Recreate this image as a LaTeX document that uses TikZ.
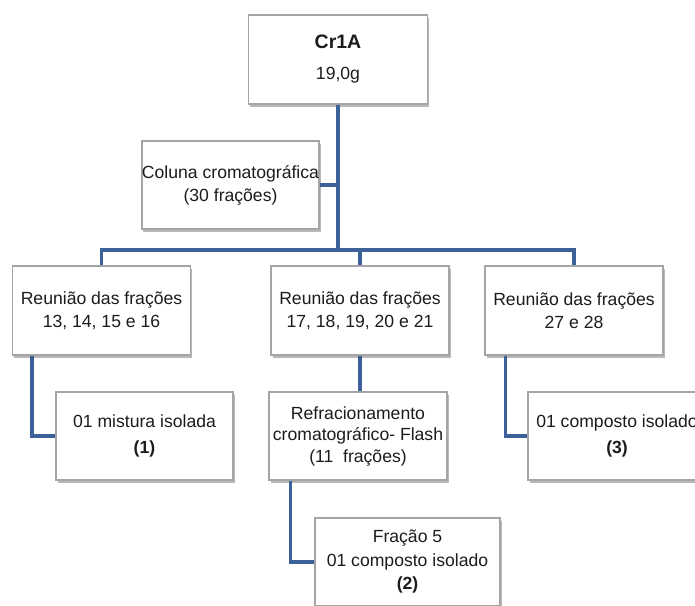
\documentclass[tikz,border=0pt]{standalone}
\usepackage{fontspec}
\setmainfont{Liberation Sans}
\usetikzlibrary{shadows}
\definecolor{linkblue}{RGB}{60,96,152}
\definecolor{boxedge}{RGB}{165,165,165}
\definecolor{txt}{RGB}{28,28,28}
\tikzset{
  stagebox/.style={draw=boxedge, line width=1.1pt, fill=white, text=txt,
    minimum width=178pt, minimum height=88pt, align=center, inner sep=0pt,
    font=\fontsize{17.6}{23}\selectfont,
    drop shadow={shadow xshift=1.5pt, shadow yshift=-2.5pt, fill=black, opacity=0.28}},
  link/.style={draw=linkblue, line width=3.8pt, line join=miter}
}
\begin{document}
\begin{tikzpicture}[x=1pt,y=-1pt]
  \useasboundingbox (0,0) rectangle (695,605);
  \fill[white] (0,0) rectangle (695,605);
  \clip (0,0) rectangle (695,605);

  % boxes
  \node[stagebox, minimum width=179pt, minimum height=89pt] (top) at (338,59.5)
    {{\fontsize{19.5}{26}\selectfont\bfseries Cr1A}\\[8pt]19,0g};
  \node[stagebox, minimum width=177pt] (col) at (230.5,185)
    {Coluna cromatográfica\\(30 frações)};
  \node[stagebox, minimum height=89pt] (r1) at (101.5,310.5)
    {Reunião das frações\\13, 14, 15 e 16};
  \node[stagebox, minimum height=89pt] (r2) at (360,310.5)
    {Reunião das frações\\17, 18, 19, 20 e 21};
  \node[stagebox, minimum height=89pt] (r3) at (574,310.5)
    {Reunião das frações\\27 e 28};
  \node[stagebox, minimum width=177pt, font=\fontsize{17.6}{26}\selectfont] (mix) at (144.5,436)
    {01 mistura isolada\\\textbf{(1)}};
  \node[stagebox, font=\fontsize{17.6}{21.5}\selectfont] (flash) at (358,436)
    {Refracionamento\\cromatográfico- Flash\\(11\ \ frações)};
  \node[stagebox, font=\fontsize{17.6}{26}\selectfont] (c3) at (617,436)
    {01 composto isolado\\\textbf{(3)}};
  \node[stagebox, minimum width=185pt, font=\fontsize{17.6}{23.5}\selectfont] (c2) at (407.5,562)
    {Fração 5\\01 composto isolado\\\textbf{(2)}};

  % bus under the first box
  \coordinate (bus) at (338,250);

  % connectors
  \draw[link] (top.south) -- (bus);
  \draw[link] (col.east) -- (col.east -| top.south);
  \draw[link] (r1.north) |- (bus) -| (r3.north);
  \draw[link] (r2.north) -- (r2.north |- bus);
  \draw[link] ([xshift=20pt]r1.south west) |- (mix.west);
  \draw[link] (r2.south) -- (r2.south |- flash.north);
  \draw[link] ([xshift=22pt]flash.south west) |- (c2.west);
  \draw[link] ([xshift=21pt]r3.south west) |- (c3.west);
\end{tikzpicture}
\end{document}
